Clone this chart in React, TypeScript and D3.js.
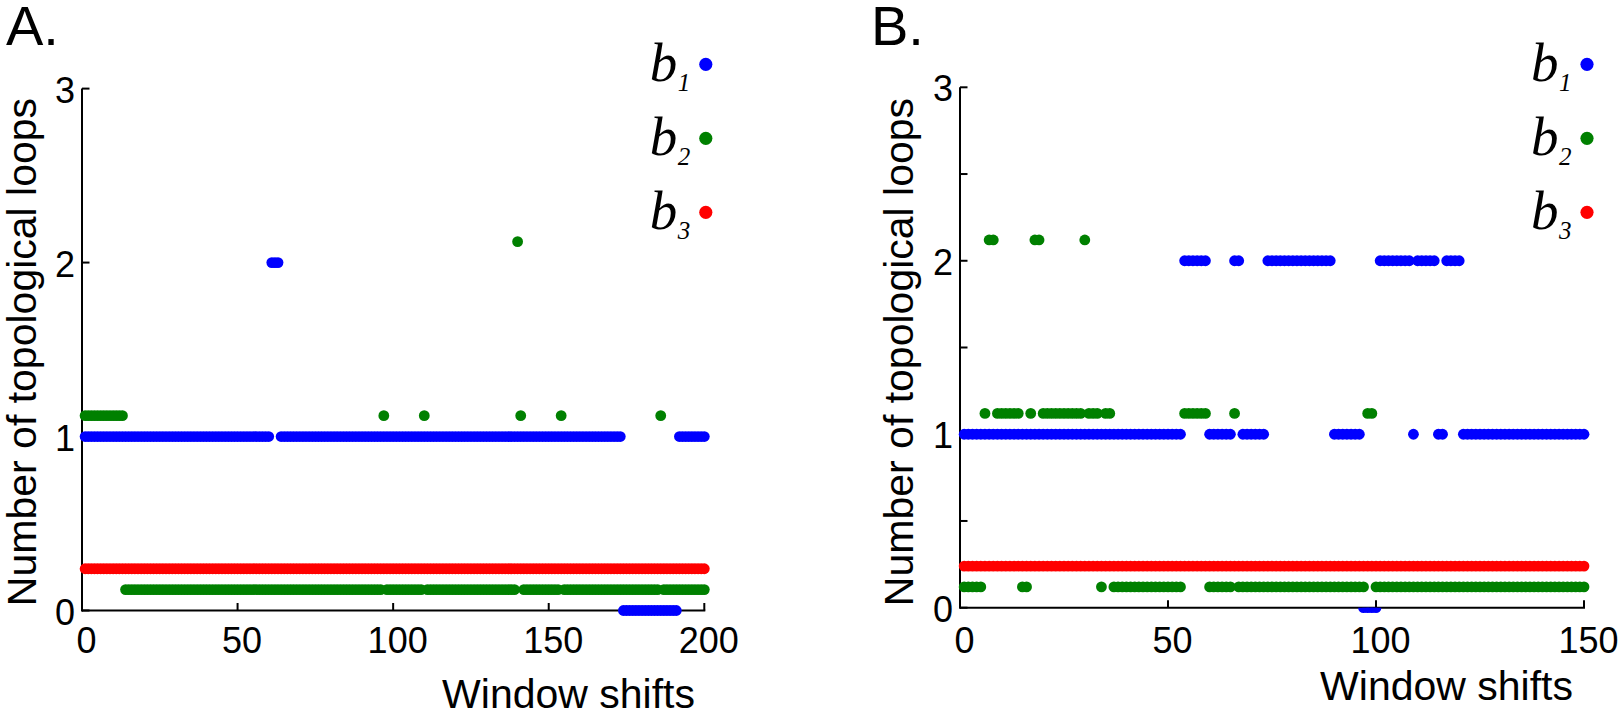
import React from "react";
import * as d3 from "d3";

// ---- data: run-length encoded values [firstShift, lastShift, value] ----
const b1A: [number, number, number][] = [
  [1, 60, 1], [61, 63, 2], [64, 173, 1], [174, 191, 0], [192, 200, 1],
];
const b2A: [number, number, number][] = [
  [1, 13, 1], [14, 96, 0], [97, 97, 1], [98, 109, 0], [110, 110, 1], [111, 139, 0],
  [140, 140, 2], [141, 141, 1], [142, 153, 0], [154, 154, 1], [155, 185, 0],
  [186, 186, 1], [187, 200, 0],
];
const b3A: [number, number, number][] = [[1, 200, 0]];

const b1B: [number, number, number][] = [
  [1, 53, 1], [54, 59, 2], [60, 65, 1], [66, 67, 2], [68, 73, 1], [74, 89, 2],
  [90, 96, 1], [97, 100, 0], [101, 108, 2], [109, 109, 1], [110, 114, 2],
  [115, 116, 1], [117, 120, 2], [121, 150, 1],
];
const b2B: [number, number, number][] = [
  [1, 5, 0], [6, 6, 1], [7, 8, 2], [9, 14, 1], [15, 16, 0], [17, 17, 1], [18, 19, 2],
  [20, 29, 1], [30, 30, 2], [31, 33, 1], [34, 34, 0], [35, 36, 1], [37, 53, 0],
  [54, 59, 1], [60, 65, 0], [66, 66, 1], [67, 97, 0], [98, 99, 1], [100, 150, 0],
];
const b3B: [number, number, number][] = [[1, 150, 0]];

const xTicksA = [0, 50, 100, 150, 200];
const xTicksB = [0, 50, 100, 150];
const yLabelTicks = [0, 1, 2, 3];
const yTicksA = [0, 1, 2, 3];
const yTicksB = [0, 0.5, 1, 1.5, 2, 2.5, 3];
const seriesNames = ["1", "2", "3"];
const seriesOffsets = [0, 0.12, 0.24];
const seriesColors = ["#0000ff", "#008000", "#ff0000"];

function expand(runs: [number, number, number][]) {
  const out: { x: number; v: number }[] = [];
  runs.forEach(([s, e, v]) => {
    for (let x = s; x <= e; x++) out.push({ x, v });
  });
  return out;
}

const SANS = "'Liberation Sans', Arial, sans-serif";
const SERIF = "'Liberation Serif', 'Times New Roman', serif";

type PanelProps = {
  id: string;
  title: string;
  titleX: number;
  series: [number, number, number][][];
  xMax: number;
  xTicks: number[];
  yTicks: number[];
  left: number;
  right: number;
  top: number;
  bottom: number;
  xLabelBaseline: number;
  xLabelEnd: number;
  yLabelX: number;
  legendX: number;
  clipZeroBelowAxis: boolean;
};

function Panel(p: PanelProps) {
  const x = d3.scaleLinear().domain([0, p.xMax]).range([p.left, p.right]);
  const y = d3.scaleLinear().domain([0, 3]).range([p.bottom, p.top]);
  const r = 5.4;
  const tickLen = 7.5;
  const legendY = [64.3, 138.3, 212.3];
  const clipId = `clip-${p.id}`;
  return (
    <g>
      <defs>
        <clipPath id={clipId}>
          <rect x={p.left - 20} y={p.bottom} width={p.right - p.left + 40} height={40} />
        </clipPath>
      </defs>
      <text x={p.titleX} y={45} fontFamily={SANS} fontSize={56}>{p.title}</text>
      {/* axes */}
      <g stroke="#000" strokeWidth={2} fill="none">
        <line x1={p.left} x2={p.left} y1={y(0) + 1} y2={y(3)} />
        <line x1={p.left} x2={x(p.xMax) + 1} y1={y(0)} y2={y(0)} />
        {p.yTicks.map((t) => (
          <line key={"yt" + t} x1={p.left} x2={p.left + tickLen} y1={y(t)} y2={y(t)} />
        ))}
        {p.xTicks.map((t) => (
          <line key={"xt" + t} x1={x(t)} x2={x(t)} y1={y(0)} y2={y(0) - tickLen} />
        ))}
      </g>
      {yLabelTicks.map((t) => (
        <text key={"yl" + t} x={p.left - 7} y={y(t) + 14} textAnchor="end" fontFamily={SANS} fontSize={36}>
          {t}
        </text>
      ))}
      {p.xTicks.map((t) => (
        <text key={"xl" + t} x={x(t) + 4.5} y={653} textAnchor="middle" fontFamily={SANS} fontSize={36}>
          {t}
        </text>
      ))}
      <text x={p.xLabelEnd} y={p.xLabelBaseline} textAnchor="end" fontFamily={SANS} fontSize={41}>
        Window shifts
      </text>
      <text
        transform={`translate(${p.yLabelX},352) rotate(-90)`}
        textAnchor="middle"
        fontFamily={SANS}
        fontSize={41}
      >
        Number of topological loops
      </text>
      {/* data */}
      {p.series.map((runs, si) => {
        const pts = expand(runs);
        return (
          <g key={"s" + si} fill={seriesColors[si]}>
            {pts.map((d) => {
              const c = (
                <circle key={d.x} cx={x(d.x)} cy={y(d.v + seriesOffsets[si])} r={r} />
              );
              if (p.clipZeroBelowAxis && d.v + seriesOffsets[si] === 0) {
                return (
                  <g key={d.x} clipPath={`url(#${clipId})`}>
                    {c}
                  </g>
                );
              }
              return c;
            })}
          </g>
        );
      })}
      {/* legend */}
      {seriesNames.map((n, i) => (
        <g key={"lg" + n}>
          <text x={p.legendX - 56} y={legendY[i] + 16.7} fontFamily={SERIF} fontStyle="italic" fontSize={55}>
            b
          </text>
          <text x={p.legendX - 28} y={legendY[i] + 26.7} fontFamily={SERIF} fontStyle="italic" fontSize={25}>
            {n}
          </text>
          <circle cx={p.legendX} cy={legendY[i]} r={6.6} fill={seriesColors[i]} />
        </g>
      ))}
    </g>
  );
}

export default function App() {
  return (
    <svg
      width={1619}
      height={710}
      style={{ position: "absolute", left: 0, top: 0, background: "#fff" }}
    >
      <rect x={0} y={0} width={1619} height={710} fill="#fff" />
      <Panel
        id="A"
        title="A."
        titleX={6}
        series={[b1A, b2A, b3A]}
        xMax={200}
        xTicks={xTicksA}
        yTicks={yTicksA}
        left={82}
        right={704.3}
        top={88.6}
        bottom={610.5}
        xLabelBaseline={708}
        xLabelEnd={695}
        yLabelX={36}
        legendX={705.8}
        clipZeroBelowAxis={false}
      />
      <Panel
        id="B"
        title="B."
        titleX={871}
        series={[b1B, b2B, b3B]}
        xMax={150}
        xTicks={xTicksB}
        yTicks={yTicksB}
        left={960}
        right={1584}
        top={87.3}
        bottom={607.7}
        xLabelBaseline={700}
        xLabelEnd={1573}
        yLabelX={913}
        legendX={1587}
        clipZeroBelowAxis={true}
      />
    </svg>
  );
}
